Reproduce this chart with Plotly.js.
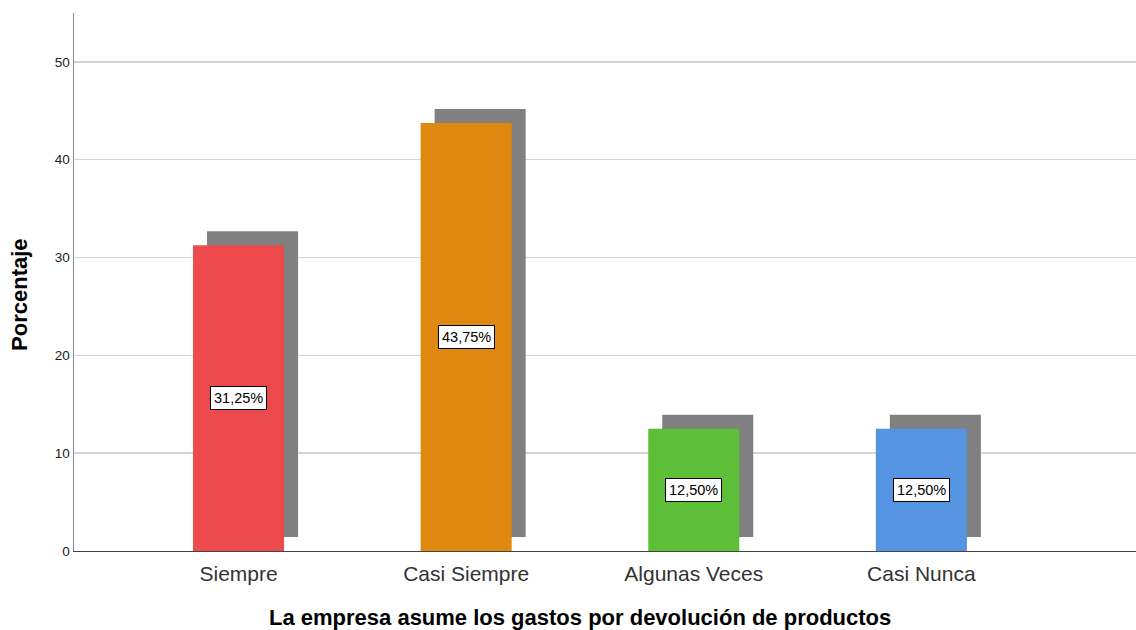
<!DOCTYPE html>
<html>
<head>
<meta charset="utf-8">
<script src="https://cdn.plot.ly/plotly-3.0.1.min.js"></script>
<style>html,body{margin:0;padding:0;background:#fff;}#chart{width:1136px;height:630px;}</style>
</head>
<body>
<div id="chart"></div>
<script>
const categories = ["Siempre", "Casi Siempre", "Algunas Veces", "Casi Nunca"];
const percentages = [31.25, 43.75, 12.50, 12.50];
const barColors = ["#EC4A4C", "#E08910", "#5CBF37", "#5494E3"];
const yTicks = [0, 10, 20, 30, 40, 50];

const labelText = percentages.map(v => v.toFixed(2).replace('.', ',') + '%');
const xPos = categories.map((c, i) => i);

const barWidth = 0.4;
const shadowDx = 0.0615;   // shadow horizontal shift (category units)
const shadowDy = 1.43;     // shadow vertical shift (percent units)
const FONT = 'Liberation Sans, Arial, sans-serif';

const shadow = {
  type: 'bar',
  x: xPos,
  y: percentages,
  base: percentages.map(() => shadowDy),
  width: barWidth,
  offset: -barWidth / 2 + shadowDx,
  marker: {color: '#808080', line: {width: 0}},
  hoverinfo: 'skip',
  showlegend: false
};
const bars = {
  type: 'bar',
  x: xPos,
  y: percentages,
  width: barWidth,
  offset: -barWidth / 2,
  marker: {color: barColors, line: {width: 0}},
  showlegend: false
};

const annotations = xPos.map((x, i) => ({
  x: x, y: percentages[i] / 2, xref: 'x', yref: 'y',
  text: labelText[i], showarrow: false,
  bgcolor: '#ffffff', bordercolor: '#000000', borderwidth: 1, borderpad: 3,
  font: {family: FONT, size: 14.5, color: '#000'}
}));
annotations.push({
  xref: 'paper', yref: 'paper', x: 0.4765, y: 0, yshift: -66, yanchor: 'middle',
  text: '<b>La empresa asume los gastos por devolución de productos</b>', showarrow: false,
  font: {family: FONT, size: 22, color: '#000'}
});
annotations.push({
  xref: 'paper', yref: 'paper', x: 0, xshift: -54, y: 0.476, textangle: -90,
  xanchor: 'center', yanchor: 'middle',
  text: '<b>Porcentaje</b>', showarrow: false,
  font: {family: FONT, size: 22, color: '#000'}
});

const layout = {
  width: 1136, height: 630,
  margin: {l: 74, r: 0, t: 13, b: 79, pad: 0},
  paper_bgcolor: '#ffffff', plot_bgcolor: '#ffffff',
  barmode: 'overlay',
  showlegend: false,
  xaxis: {
    range: [-0.723, 3.943],
    tickvals: xPos, ticktext: categories,
    showgrid: false, zeroline: false,
    showline: true, linecolor: '#444', linewidth: 1,
    ticks: '', ticklen: 0, ticklabelstandoff: 4,
    tickfont: {family: FONT, size: 21, color: '#333'}
  },
  yaxis: {
    range: [0, 55],
    tickvals: yTicks,
    showgrid: true, gridcolor: '#d4d4d4', gridwidth: 1.5,
    zeroline: false,
    showline: true, linecolor: '#888', linewidth: 1.5,
    ticks: '', ticklen: 0,
    tickfont: {family: FONT, size: 13.5, color: '#222'}
  },
  annotations: annotations
};

Plotly.newPlot('chart', [shadow, bars], layout, {displayModeBar: false, staticPlot: true});
</script>
</body>
</html>
